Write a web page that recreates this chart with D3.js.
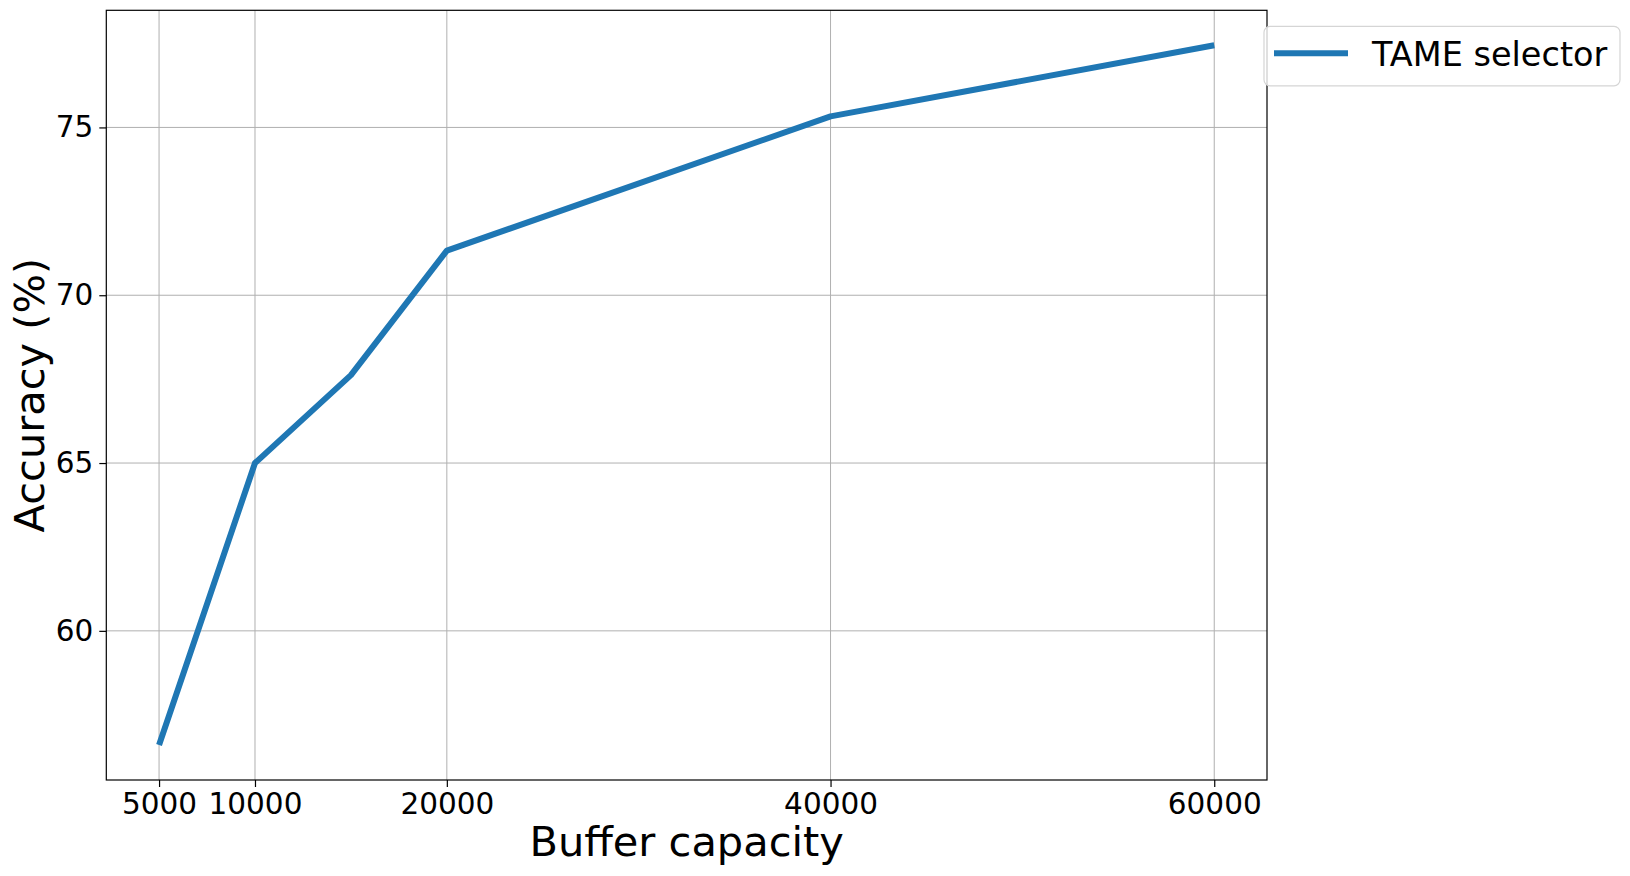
<!DOCTYPE html>
<html>
<head>
<meta charset="utf-8">
<script src="https://cdn.jsdelivr.net/npm/d3@7"></script>
<style>
  html, body { margin: 0; padding: 0; background: #fff; }
  svg { display: block; font-family: "DejaVu Sans", sans-serif; }
</style>
</head>
<body>
<svg id="chart" width="1630" height="876"></svg>
<script>
const capacities = [5000, 10000, 15000, 20000, 40000, 60000];
const accuracy = [56.6, 65.0, 67.62, 71.33, 75.33, 77.45];
const xTicks = [5000, 10000, 20000, 40000, 60000];
const yTicks = [60, 65, 70, 75];
const seriesName = "TAME selector";
const xLabel = "Buffer capacity";
const yLabel = "Accuracy (%)";

const svg = d3.select("#chart");
const L = 106.3, R = 1267, T = 10.3, B = 780;

const x = d3.scaleLinear().domain([2250, 62750]).range([L, R]);
const y = d3.scaleLinear().domain([55.556, 78.49]).range([B, T]);

// grid
const g = svg.append("g");
g.selectAll("line.vg").data(xTicks).enter().append("line")
  .attr("x1", d => x(d)).attr("x2", d => x(d)).attr("y1", T).attr("y2", B)
  .attr("stroke", "#b0b0b0").attr("stroke-width", 1);
g.selectAll("line.hg").data(yTicks).enter().append("line")
  .attr("x1", L).attr("x2", R).attr("y1", d => y(d)).attr("y2", d => y(d))
  .attr("stroke", "#b0b0b0").attr("stroke-width", 1);

// axes
const xAxis = d3.axisBottom(x).tickValues(xTicks).tickSize(7).tickPadding(6).tickFormat(d3.format("d"));
const yAxis = d3.axisLeft(y).tickValues(yTicks).tickSize(7).tickPadding(6).tickFormat(d3.format("d"));

const xa = svg.append("g").attr("transform", `translate(0,${B})`).call(xAxis);
const ya = svg.append("g").attr("transform", `translate(${L},0)`).call(yAxis);
[xa, ya].forEach(a => {
  a.select(".domain").remove();
  a.selectAll(".tick line").attr("stroke", "#000").attr("stroke-width", 1.2);
  a.selectAll(".tick text").attr("fill", "#000").style("font-size", "29.5px").style("font-family", "DejaVu Sans");
});

// line
const line = d3.line().x((d, i) => x(capacities[i])).y(d => y(d));
svg.append("path").datum(accuracy)
  .attr("d", line).attr("fill", "none")
  .attr("stroke", "#1f77b4").attr("stroke-width", 6)
  .attr("stroke-linejoin", "round").attr("stroke-linecap", "butt");

// frame
svg.append("rect").attr("x", L).attr("y", T).attr("width", R - L).attr("height", B - T)
  .attr("fill", "none").attr("stroke", "#000").attr("stroke-width", 1.2);

// labels
svg.append("text").attr("x", (L + R) / 2).attr("y", 856)
  .attr("text-anchor", "middle").style("font-size", "41.5px").attr("fill", "#000").text(xLabel);
svg.append("text")
  .attr("transform", `translate(44,${(T + B) / 2}) rotate(-90)`)
  .attr("text-anchor", "middle").style("font-size", "41.5px").attr("fill", "#000").text(yLabel);

// legend
const lg = svg.append("g");
lg.append("rect").attr("x", 1264).attr("y", 26.3).attr("width", 356).attr("height", 59.5)
  .attr("rx", 6).attr("fill", "#fff").attr("fill-opacity", 0.8)
  .attr("stroke", "#d5d5d5").attr("stroke-width", 1.2);
lg.append("line").attr("x1", 1274).attr("x2", 1348).attr("y1", 53.3).attr("y2", 53.3)
  .attr("stroke", "#1f77b4").attr("stroke-width", 6);
lg.append("text").attr("x", 1372).attr("y", 66).style("font-size", "33.5px").attr("fill", "#000").text(seriesName);
</script>
</body>
</html>
